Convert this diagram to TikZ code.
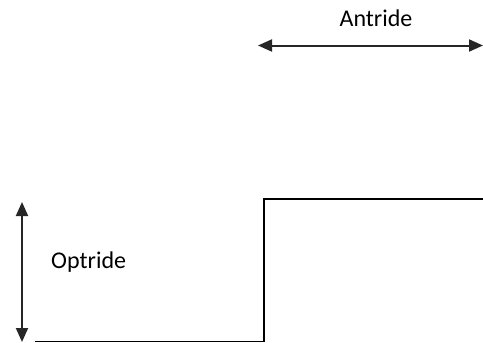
\documentclass[tikz,border=0pt]{standalone}
\usepackage{fontspec}
\setmainfont{Carlito}
\usetikzlibrary{arrows.meta}
\begin{document}
\begin{tikzpicture}[x=1pt,y=-1pt,
  dimarrow/.style={draw=black!85, line width=2pt, {Triangle[length=14pt,width=12pt]}-{Triangle[length=14pt,width=12pt]}},
  stepline/.style={draw=black, line width=1.6pt},
  lbl/.style={font=\fontsize{24}{28}\selectfont, inner sep=0pt, anchor=base}]
\useasboundingbox (0,0) rectangle (483,343);
\coordinate (aL) at (258,45.5);
\coordinate (aR) at (483,45.5);
\draw[dimarrow] (aL) -- (aR);
\node[lbl] (antride) at (376,26) {Antride};
\coordinate (oT) at (22,202);
\coordinate (oB) at (22,342);
\draw[dimarrow] (oT) -- (oB);
\node[lbl, anchor=base west] (optride) at (51,268) {Optride};
\coordinate (s0) at (35,341.5);
\coordinate (s1) at (264,341.5);
\coordinate (s2) at (264,199);
\coordinate (s3) at (483,199);
\draw[stepline] (s0) -- (s1) -- (s2) -- (s3);
\end{tikzpicture}
\end{document}
